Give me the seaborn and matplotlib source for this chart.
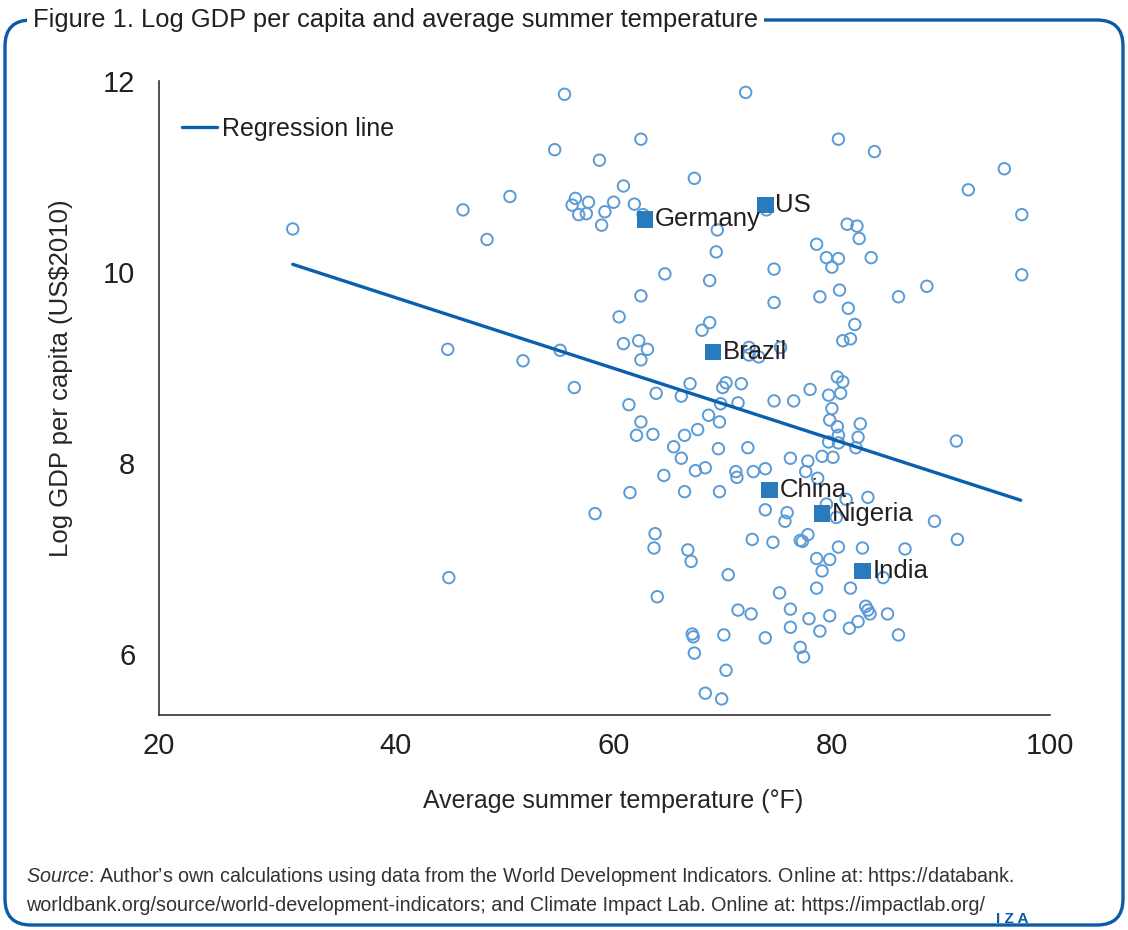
import matplotlib
matplotlib.use("Agg")
import matplotlib.pyplot as plt
from matplotlib.patches import FancyBboxPatch
import seaborn as sns
import pandas as pd

# ======================
# DATA
# ======================
temp_f = [
    30.6, 44.8, 44.9, 46.2, 48.4, 50.5, 51.7, 54.6, 55.1, 55.5,
    56.4, 58.3, 58.7, 56.5, 56.2, 57.7, 56.8, 57.5, 59.2, 58.9,
    60.0, 60.9, 61.9, 62.7, 62.5, 67.4, 72.1, 69.5, 69.4, 64.7,
    68.8, 62.5, 60.5, 68.8, 68.1, 60.9, 62.3, 63.1, 62.5, 74.0,
    74.7, 74.7, 72.4, 72.4, 73.3, 75.3, 80.6, 83.9, 95.8, 92.5,
    97.4, 81.4, 82.3, 82.5, 78.6, 79.5, 80.6, 80.0, 83.6, 78.9,
    80.7, 81.5, 86.1, 88.7, 97.4, 82.1, 81.7, 81.0, 67.0, 70.3,
    70.0, 71.7, 63.9, 66.2, 61.4, 69.8, 71.4, 74.7, 76.5, 68.7,
    69.7, 62.5, 62.1, 63.6, 66.5, 67.7, 65.5, 69.6, 72.3, 66.2,
    76.2, 67.5, 68.4, 71.2, 71.3, 72.8, 73.9, 64.6, 61.5, 66.5,
    69.7, 73.9, 75.9, 75.7, 63.8, 63.7, 66.8, 72.7, 74.6, 77.1,
    80.5, 81.0, 78.0, 79.7, 80.8, 80.0, 79.8, 80.5, 82.6, 80.6,
    82.4, 79.7, 80.6, 82.2, 91.4, 77.8, 79.1, 80.1, 77.6, 78.7,
    81.3, 83.3, 79.5, 80.4, 89.4, 77.8, 77.3, 91.5, 80.6, 82.8,
    86.7, 67.1, 70.5, 64.0, 75.2, 71.4, 72.6, 67.2, 67.3, 70.1,
    73.9, 67.4, 70.3, 68.4, 69.9, 78.6, 79.8, 79.1, 84.7, 78.6,
    81.7, 76.2, 83.1, 83.3, 83.5, 85.1, 77.9, 79.8, 76.2, 78.9,
    82.4, 81.6, 86.1, 77.1, 77.4,
]
log_gdp = [
    10.45, 9.19, 6.80, 10.65, 10.34, 10.79, 9.07, 11.28, 9.18, 11.86,
    8.79, 7.47, 11.17, 10.77, 10.70, 10.73, 10.60, 10.61, 10.63, 10.49,
    10.73, 10.90, 10.71, 10.60, 11.39, 10.98, 11.88, 10.44, 10.21, 9.98,
    9.91, 9.75, 9.53, 9.47, 9.39, 9.25, 9.28, 9.19, 9.08, 10.65,
    10.03, 9.68, 9.21, 9.13, 9.11, 9.21, 11.39, 11.26, 11.08, 10.86,
    10.60, 10.50, 10.48, 10.35, 10.29, 10.15, 10.14, 10.05, 10.15, 9.74,
    9.81, 9.62, 9.74, 9.85, 9.97, 9.45, 9.30, 9.28, 8.83, 8.84,
    8.79, 8.83, 8.73, 8.70, 8.61, 8.62, 8.63, 8.65, 8.65, 8.50,
    8.43, 8.43, 8.29, 8.30, 8.29, 8.35, 8.17, 8.15, 8.16, 8.05,
    8.05, 7.92, 7.95, 7.91, 7.85, 7.91, 7.94, 7.87, 7.69, 7.70,
    7.70, 7.51, 7.48, 7.39, 7.26, 7.11, 7.09, 7.20, 7.17, 7.19,
    8.90, 8.85, 8.77, 8.71, 8.73, 8.57, 8.45, 8.38, 8.41, 8.29,
    8.27, 8.22, 8.21, 8.16, 8.23, 8.02, 8.07, 8.06, 7.91, 7.84,
    7.62, 7.64, 7.57, 7.43, 7.39, 7.25, 7.18, 7.20, 7.12, 7.11,
    7.10, 6.97, 6.83, 6.60, 6.64, 6.46, 6.42, 6.21, 6.18, 6.20,
    6.17, 6.01, 5.83, 5.59, 5.53, 7.00, 6.99, 6.87, 6.80, 6.69,
    6.69, 6.47, 6.50, 6.46, 6.42, 6.42, 6.37, 6.40, 6.28, 6.24,
    6.34, 6.27, 6.20, 6.07, 5.97,
]

countries = ["Germany", "US", "Brazil", "China", "Nigeria", "India"]
country_temp = [62.9, 73.9, 69.1, 74.3, 79.1, 82.8]
country_gdp = [10.55, 10.70, 9.16, 7.72, 7.47, 6.87]

reg_x = [30.6, 97.3]
reg_y = [10.08, 7.61]

x_ticks = [40, 60, 80, 100]
y_ticks = [6, 8, 10, 12]

# ======================
# STYLE
# ======================
CIRCLE_COL = "#5b9bd5"
SQUARE_COL = "#2a7bbd"
LINE_COL = "#0a5fb0"
FRAME_COL = "#0a5ca8"
TEXT_COL = "#231f20"
FONT = ["Liberation Sans", "DejaVu Sans"]

sns.set_style("white")
plt.rcParams["font.family"] = FONT
plt.rcParams["text.color"] = TEXT_COL
plt.rcParams["mathtext.fontset"] = "custom"
plt.rcParams["mathtext.it"] = "Liberation Sans:italic"
plt.rcParams["mathtext.rm"] = "Liberation Sans"

df = pd.DataFrame({"temp": temp_f, "gdp": log_gdp})
cdf = pd.DataFrame({"country": countries, "temp": country_temp, "gdp": country_gdp})
rdf = pd.DataFrame({"temp": reg_x, "gdp": reg_y})

fig = plt.figure(figsize=(11.28, 9.30), dpi=100)
ax = fig.add_axes([0.141, 0.231, 0.790, 0.682])

sns.scatterplot(data=df, x="temp", y="gdp", ax=ax, marker="o", s=68,
                facecolor="none", edgecolor=CIRCLE_COL, linewidth=1.4, zorder=2)
sns.lineplot(data=rdf, x="temp", y="gdp", ax=ax, color=LINE_COL, lw=2.4,
             label="Regression line", zorder=3)
sns.scatterplot(data=cdf, x="temp", y="gdp", ax=ax, marker="s", s=140,
                color=SQUARE_COL, edgecolor="none", zorder=4)

for name, tx, gy in zip(countries, country_temp, country_gdp):
    ax.annotate(name, (tx, gy), xytext=(7, 0), textcoords="offset points",
                va="center", ha="left", fontsize=18.5, color=TEXT_COL, zorder=5)

# axis starts a bit left of 20; the first tick sits at the axis start
x_left = 18.35
ax.set_xlim(x_left, 100)
ax.set_ylim(5.36, 12)
ax.set_xticks([x_left] + x_ticks)
ax.set_xticklabels(["20"] + [str(t) for t in x_ticks])
ax.set_yticks(y_ticks)
ax.tick_params(axis="both", direction="out", length=6, width=1.2,
               color="#333333", labelsize=21, labelcolor=TEXT_COL)
ax.tick_params(axis="x", pad=6)
ax.tick_params(axis="y", pad=11)
for side in ["top", "right"]:
    ax.spines[side].set_visible(False)
for side in ["left", "bottom"]:
    ax.spines[side].set_color("#333333")
    ax.spines[side].set_linewidth(1.2)

ax.set_xlabel("Average summer temperature (°F)", fontsize=18, labelpad=21)
ax.xaxis.label.set_x(0.5095)
ax.set_ylabel(r"Log GDP per capita (US\$2010)", fontsize=18.5)
ax.yaxis.set_label_coords(-0.0965, 0.5315)

leg = ax.legend(loc="center left", bbox_to_anchor=(23 / 891, 586 / 634),
                frameon=False, fontsize=18, handlelength=1.4,
                handletextpad=0.2, borderpad=0, borderaxespad=0)

# ======================
# FRAME, TITLE, SOURCE
# ======================
ov = fig.add_axes([0, 0, 1, 1], zorder=-1)
ov.set_xlim(0, 1128)
ov.set_ylim(930, 0)
ov.axis("off")
ov.add_patch(FancyBboxPatch((5, 20), 1118, 905,
                            boxstyle="round,pad=0,rounding_size=26",
                            fc="none", ec=FRAME_COL, lw=2.4))

fig.text(33 / 1128, 1 - 20 / 930, "Figure 1. Log GDP per capita and average summer temperature",
         ha="left", va="center", fontsize=18.4, color=TEXT_COL,
         bbox=dict(fc="white", ec="none", pad=4))

fig.text(26 / 1128, 1 - 876 / 930,
         r"$\it{Source}$: Author’s own calculations using data from the World Development Indicators. Online at: https://databank.",
         ha="left", va="center", fontsize=14.2, color="#333333")
fig.text(26 / 1128, 1 - 905 / 930,
         "worldbank.org/source/world-development-indicators; and Climate Impact Lab. Online at: https://impactlab.org/",
         ha="left", va="center", fontsize=14.2, color="#333333")
fig.text(1012 / 1128, 1 - 919 / 930, "I Z A", ha="center", va="center",
         fontsize=11, color=FRAME_COL, fontweight="bold")

fig.savefig("out.png", dpi=100, facecolor="white")
